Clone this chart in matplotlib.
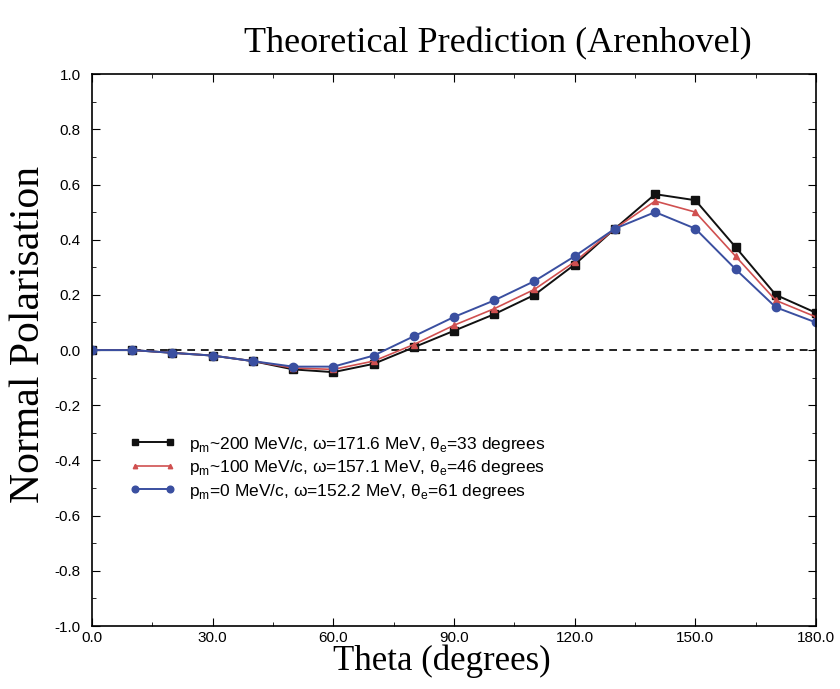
import numpy as np
import matplotlib.pyplot as plt
from matplotlib.ticker import MultipleLocator

theta = [0, 10, 20, 30, 40, 50, 60, 70, 80, 90, 100, 110, 120, 130, 140, 150, 160, 170, 180]
p200 = [0.0, 0.0, -0.01, -0.02, -0.04, -0.07, -0.08, -0.05, 0.01, 0.07, 0.13, 0.20, 0.31, 0.44, 0.565, 0.543, 0.373, 0.20, 0.135]
p100 = [0.0, 0.0, -0.01, -0.02, -0.04, -0.065, -0.07, -0.04, 0.02, 0.09, 0.15, 0.22, 0.32, 0.44, 0.54, 0.50, 0.34, 0.18, 0.12]
p0 = [0.0, 0.0, -0.01, -0.02, -0.04, -0.06, -0.06, -0.02, 0.05, 0.12, 0.18, 0.25, 0.34, 0.44, 0.50, 0.44, 0.293, 0.155, 0.10]

labels = ['p$_\\mathrm{m}$~200 MeV/c, ω=171.6 MeV, θ$_\\mathrm{e}$=33 degrees',
          'p$_\\mathrm{m}$~100 MeV/c, ω=157.1 MeV, θ$_\\mathrm{e}$=46 degrees',
          'p$_\\mathrm{m}$=0 MeV/c, ω=152.2 MeV, θ$_\\mathrm{e}$=61 degrees']

plt.rcParams['font.family'] = 'Liberation Sans'
plt.rcParams['mathtext.fontset'] = 'custom'
plt.rcParams['mathtext.rm'] = 'Liberation Sans'

fig = plt.figure(figsize=(8.4, 6.89), dpi=100)
ax = fig.add_axes([0.1095, 0.0914, 0.862, 0.801])

ax.axhline(0, color='#222222', ls=(0, (4, 3)), lw=1.4, zorder=1)
ax.plot(theta, p200, color='#111111', marker='s', ms=6, lw=1.4, label=labels[0])
ax.plot(theta, p100, color='#d05050', marker='^', ms=4, lw=1.2, label=labels[1])
ax.plot(theta, p0, color='#3a4fa0', marker='o', ms=6, lw=1.4, label=labels[2])

ax.set_xlim(0, 180)
ax.set_ylim(-1, 1)
ax.xaxis.set_major_locator(MultipleLocator(30))
ax.xaxis.set_minor_locator(MultipleLocator(15))
ax.yaxis.set_major_locator(MultipleLocator(0.2))
ax.yaxis.set_minor_locator(MultipleLocator(0.1))
ax.xaxis.set_major_formatter(plt.FormatStrFormatter('%.1f'))
ax.yaxis.set_major_formatter(plt.FormatStrFormatter('%.1f'))
ax.tick_params(which='both', direction='in', top=True, right=True, labelsize=11)
ax.tick_params(axis='y', pad=8)
ax.tick_params(which='major', length=6)
ax.tick_params(which='minor', length=3)
for s in ax.spines.values():
    s.set_linewidth(1.2)

ax.set_xlabel('Theta (degrees)', family='Liberation Serif', fontsize=25, labelpad=0, x=0.483)
ax.set_ylabel('Normal Polarisation', family='Liberation Serif', fontsize=30, labelpad=5, y=0.529)
ax.set_title('Theoretical Prediction (Arenhovel)', family='Liberation Serif', fontsize=26, pad=16, x=0.56)

ax.legend(loc='upper left', bbox_to_anchor=(0.052, 0.347), frameon=False, fontsize=12.5,
          handlelength=2.6, numpoints=2, markerscale=0.8, labelspacing=0.26, handletextpad=0.8,
          borderpad=0, borderaxespad=0)

fig.savefig('out.png', dpi=100)
